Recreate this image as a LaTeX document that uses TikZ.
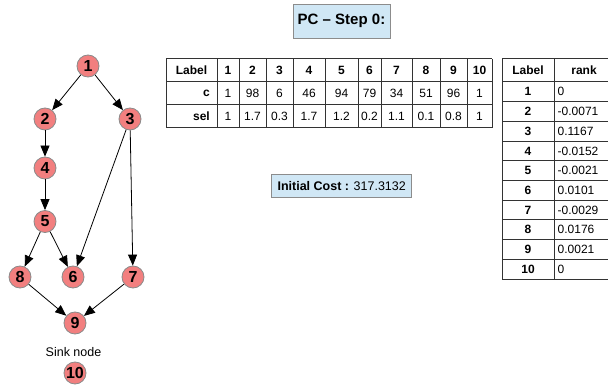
\documentclass[tikz,border=0pt]{standalone}
\usepackage{fontspec}
\setmainfont{Liberation Sans}
\usetikzlibrary{arrows.meta}
\definecolor{nodered}{HTML}{F27F7F}
\definecolor{nodeborder}{HTML}{8A8A8A}
\definecolor{boxblue}{HTML}{D0E7F5}
\definecolor{boxborder}{HTML}{8C8C8C}
\begin{document}
\begin{tikzpicture}[x=1pt,y=-1pt,
  gnode/.style={circle, draw=nodeborder, fill=nodered, minimum size=22pt, inner sep=0pt,
    line width=0.8pt, font=\fontsize{16}{16}\selectfont\bfseries},
  edge/.style={draw=black, line width=0.8pt, -{Triangle[length=11pt,width=9pt]}},
  bluebox/.style={draw=boxborder, fill=boxblue, line width=0.9pt, inner sep=0pt},
  tline/.style={line width=1pt, draw=black!80},
  tb/.style={inner sep=0pt, font=\fontsize{12}{12}\selectfont\bfseries},
  tr/.style={inner sep=0pt, font=\fontsize{12}{12}\selectfont},
  plain/.style={inner sep=0pt, font=\fontsize{12.5}{13}\selectfont}
]
\useasboundingbox (0,0) rectangle (608,385);

% ---------- graph ----------
\node[gnode] (n1) at (88,66) {1};
\node[gnode] (n2) at (45,119) {2};
\node[gnode] (n3) at (130,119) {3};
\node[gnode] (n4) at (45,168) {4};
\node[gnode] (n5) at (45,221.5) {5};
\node[gnode] (n8) at (20,277) {8};
\node[gnode] (n6) at (73,277) {6};
\node[gnode] (n7) at (133,277) {7};
\node[gnode] (n9) at (75,323) {9};
\node[plain] (sink) at (73.5,352) {Sink node};
\node[gnode] (n10) at (75,373) {10};

\draw[edge] (n1) -- (n2);
\draw[edge] (n1) -- (n3);
\draw[edge] (n2) -- (n4);
\draw[edge] (n4) -- (n5);
\draw[edge] (n5) -- (n8);
\draw[edge] (n5) -- (n6);
\draw[edge] (n3) -- (n6);
\draw[edge] (n3) -- (n7);
\draw[edge] (n8) -- (n9);
\draw[edge] (n7) -- (n9);

% ---------- boxes ----------
\node[bluebox, minimum width=97pt, minimum height=34pt,
      font=\fontsize{15}{15}\selectfont\bfseries] (title) at (341.5,21) {PC -- Step 0:};
\node[bluebox, minimum width=140pt, minimum height=23.5pt,
      font=\fontsize{12.5}{13}\selectfont] (cost) at (341.7,186) {\textbf{Initial Cost :} 317.3132};

% ---------- table 1 ----------
\foreach \yy in {59,82,105,128} \draw[tline] (166,\yy) -- (492,\yy);
\foreach \xx in {166,217,239,266,293,325,358,381,412,440,467,492} \draw[tline] (\xx,59) -- (\xx,128);
\node[tb] (t1lab) at (191.5,70.5) {Label};
\node[tb, anchor=east] (t1c) at (210,93.5) {c};
\node[tb, anchor=east] (t1sel) at (210,116.5) {sel};
\foreach \xa/\xb/\h/\cc/\ss in {217/239/1/1/1, 239/266/2/98/1.7, 266/293/3/6/0.3,
    293/325/4/46/1.7, 325/358/5/94/1.2, 358/381/6/79/0.2, 381/412/7/34/1.1,
    412/440/8/51/0.1, 440/467/9/96/0.8, 467/492/10/1/1} {
  \node[tb] (t1h\h) at ({(\xa+\xb)/2},70.5) {\h};
  \node[tr] (t1c\h) at ({(\xa+\xb)/2},93.5) {\cc};
  \node[tr] (t1s\h) at ({(\xa+\xb)/2},116.5) {\ss};
}

% ---------- table 2 ----------
\draw[tline] (502,59) -- (610,59);
\draw[tline] (502,82) -- (610,82);
\foreach \k in {1,...,10} \draw[tline] (502,{82+19.7*\k}) -- (610,{82+19.7*\k});
\draw[tline] (502,59) -- (502,279);
\draw[tline] (554,59) -- (554,279);
\node[tb] (t2lab) at (528,70.5) {Label};
\node[tb] (t2rank) at (584,70.5) {rank};
\foreach \l/\r [count=\k] in {1/0, 2/-0.0071, 3/0.1167, 4/-0.0152, 5/-0.0021,
    6/0.0101, 7/-0.0029, 8/0.0176, 9/0.0021, 10/0} {
  \node[tb] (t2l\l) at (528,{82+19.7*\k-9.85}) {\l};
  \node[tr, anchor=west] (t2r\l) at (557.5,{82+19.7*\k-9.85}) {\r};
}
\end{tikzpicture}
\end{document}
